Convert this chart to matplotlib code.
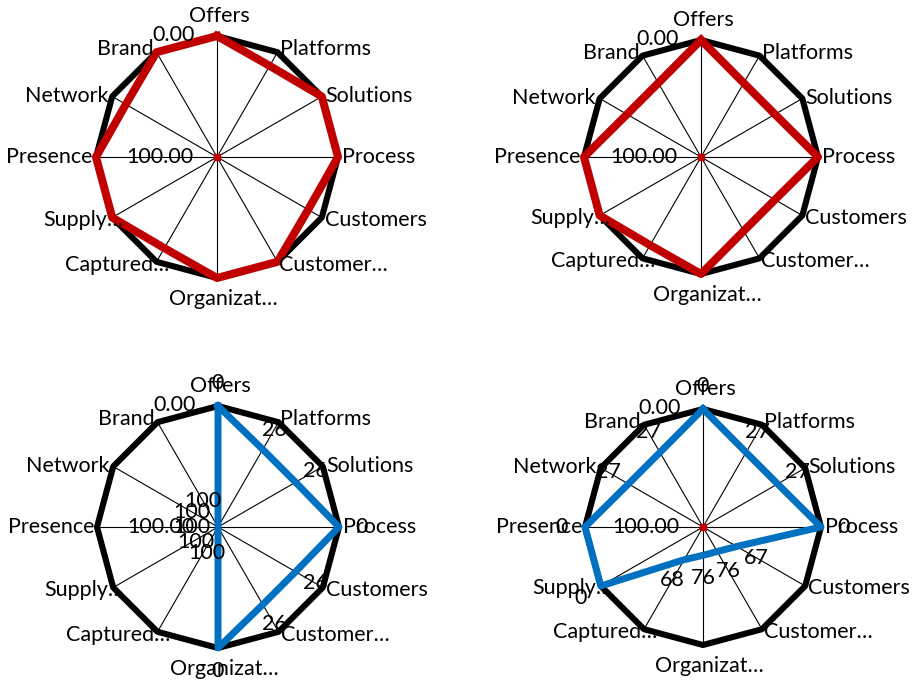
import numpy as np
import matplotlib
matplotlib.use("Agg")
import matplotlib.pyplot as plt

# ---------------- data ----------------
categories = ["Offers", "Platforms", "Solutions", "Process", "Customers", "Customer…",
              "Organizat…", "Captured…", "Supply…", "Presence", "Network", "Brand"]
outline = [0, 0, 0, 0, 0, 0, 0, 0, 0, 0, 0, 0]
red_top_left = [0, 13, 0, 0, 13, 0, 0, 13, 0, 0, 13, 0]
red_top_right = [0, 27, 27, 0, 27, 27, 0, 13, 0, 0, 27, 27]
blue_bottom_left = [0, 26, 26, 0, 26, 26, 0, 100, 100, 100, 100, 100]
blue_bottom_right = [0, 27, 27, 0, 67, 76, 76, 68, 0, 0, 27, 27]
center_dot = [100]
axis_min_label = "0.00"
axis_max_label = "100.00"

plt.rcParams["font.family"] = ["Lato", "DejaVu Sans"]
FS = 15.5
W, H = 915, 685
PX = 0.72  # points per pixel at dpi 100

fig = plt.figure(figsize=(W / 100, H / 100), dpi=100)

panels = [
    dict(cx=217, cy=157, R=121, vals=red_top_left, color="#C00000", lw=5.8, dlabels=False, dot=True),
    dict(cx=701, cy=157, R=117, vals=red_top_right, color="#C00000", lw=5.8, dlabels=False, dot=True),
    dict(cx=218, cy=527, R=121, vals=blue_bottom_left, color="#0070C0", lw=5.0, dlabels=True, dot=False),
    dict(cx=703, cy=527, R=118, vals=blue_bottom_right, color="#0070C0", lw=5.0, dlabels=True, dot=True),
]

# category label offsets (pixels: dx right, dy down) and alignment
cat_offsets = [(2, -20, "center"), (2, -3, "left"), (3, -1, "left"), (4, 0, "left"),
               (3, 2, "left"), (2, 3, "left"), (6, 21, "center"), (13, 3, "right"),
               (11, 2, "right"), (-3, 0, "right"), (-4, -1, "right"), (-3, -3, "right")]

n = len(categories)
angles = np.arange(n) * 2 * np.pi / n
closed_angles = np.append(angles, angles[0])

for p in panels:
    cx, cy, R = p["cx"], p["cy"], p["R"]
    ax = fig.add_axes([(cx - R) / W, (H - cy - R) / H, 2 * R / W, 2 * R / H], projection="polar")
    ax.set_theta_zero_location("N")
    ax.set_theta_direction(-1)
    ax.set_ylim(100, 0)
    ax.set_thetagrids(np.degrees(angles), labels=[""] * n)
    ax.xaxis.grid(True, color="black", lw=0.8)
    ax.yaxis.grid(False)
    ax.set_yticks([])
    ax.spines["polar"].set_visible(False)
    ax.patch.set_visible(False)

    ax.plot(closed_angles, outline + outline[:1], color="black", lw=4.4,
            solid_joinstyle="round", clip_on=False, zorder=3)
    if p["dot"]:
        ax.plot([0], center_dot, marker="s", ms=4.2, color="#C00000", ls="none",
                clip_on=False, zorder=3.5)
    vals = p["vals"]
    ax.plot(closed_angles, vals + vals[:1], color=p["color"], lw=p["lw"],
            solid_joinstyle="round", clip_on=False, zorder=4)

    # category labels
    for a, lab, (dx, dy, ha) in zip(angles, categories, cat_offsets):
        ax.annotate(lab, xy=(a, 0), xytext=(dx * PX, -dy * PX), textcoords="offset points",
                    ha=ha, va="center", fontsize=FS, color="black", annotation_clip=False,
                    zorder=6)

    # axis labels
    ax.annotate(axis_min_label, xy=(0, 0), xytext=(-22 * PX, 1 * PX), textcoords="offset points",
                ha="right", va="center", fontsize=FS, color="black", annotation_clip=False, zorder=6)
    ax.annotate(axis_max_label, xy=(0, 100), xytext=(-24 * PX, 0), textcoords="offset points",
                ha="right", va="center", fontsize=FS, color="black", annotation_clip=False, zorder=6)

    # data labels
    if p["dlabels"]:
        for a, v in zip(angles, vals):
            off = 23 if v < 100 else 30
            shift = 4 if v >= 100 and np.cos(a) < 0 else 0
            ax.annotate(f"{v:d}", xy=(a, v),
                        xytext=((off * np.sin(a) + shift) * PX, off * np.cos(a) * PX),
                        textcoords="offset points", ha="center", va="center",
                        fontsize=FS, color="black", annotation_clip=False, zorder=7)

fig.savefig("out.png", dpi=100)
